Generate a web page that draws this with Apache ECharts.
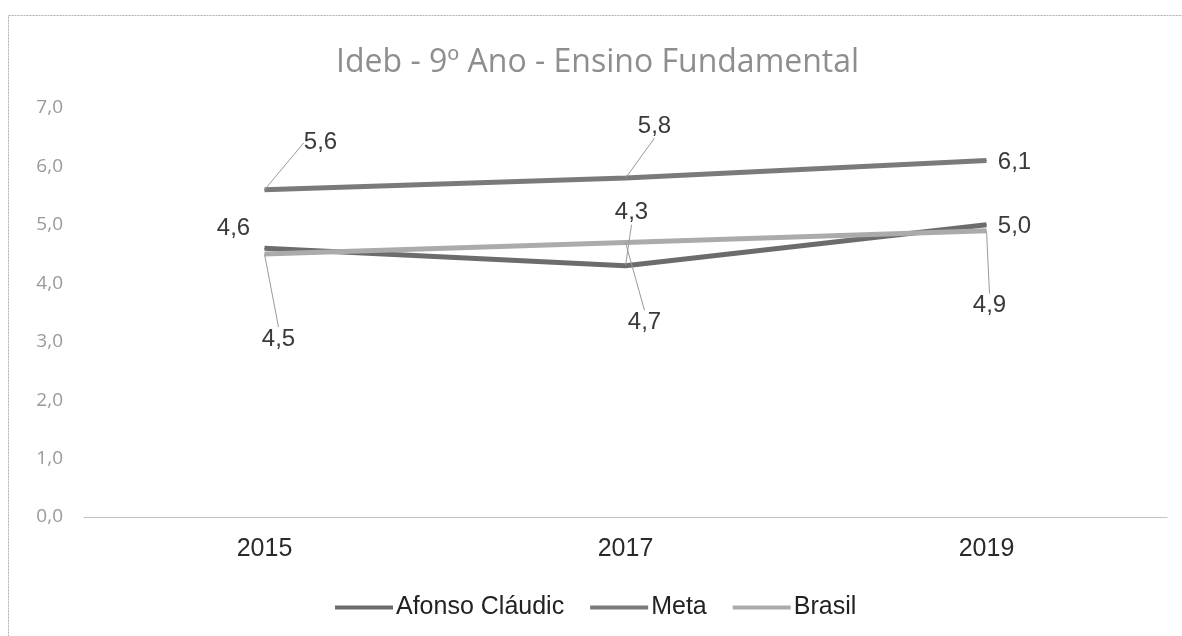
<!DOCTYPE html>
<html>
<head>
<meta charset="utf-8">
<style>
  html, body { margin: 0; padding: 0; background: #fff; }
  #chart { width: 1182px; height: 636px; }
</style>
<script src="https://cdn.jsdelivr.net/npm/echarts@6/dist/echarts.min.js"></script>
</head>
<body>
<div id="chart"></div>
<script>
// dados
const categories = ['2015', '2017', '2019'];
const afonso = [4.6, 4.3, 5.0];
const meta = [5.6, 5.8, 6.1];
const brasil = [4.5, 4.7, 4.9];
const yTicks = [0, 1, 2, 3, 4, 5, 6, 7];

// posicao dos rotulos (deslocamento em px do ponto) e linha guia
const labelShift = {
  'Afonso Cláudic': [[-31, -20], [6, -53], [28, 2]],
  'Meta': [[56, -47], [29, -52], [28, 2]],
  'Brasil': [[14, 85], [19, 80], [3, 75]]
};
const leader = {
  'Afonso Cláudic': [false, true, false],
  'Meta': [true, true, false],
  'Brasil': [true, true, true]
};

const fmt = (v) => Number(v).toFixed(1).replace('.', ',');

function makeSeries(name, values, color) {
  return {
    name: name,
    type: 'line',
    data: values.map((v, i) => ({
      value: v,
      labelLine: { show: leader[name][i] }
    })),
    symbol: 'circle',
    symbolSize: 1,
    itemStyle: { color: color },
    lineStyle: { color: color, width: 5 },
    label: {
      show: true,
      position: 'inside',
      formatter: (p) => fmt(p.value),
      fontFamily: 'Liberation Sans',
      fontSize: 24,
      color: '#3a3a3a'
    },
    labelLine: {
      lineStyle: { color: '#9a9a9a', width: 1 }
    },
    labelLayout: (params) => {
      const s = labelShift[name][params.dataIndex];
      return { dx: s[0], dy: s[1] };
    },
    emphasis: { disabled: true }
  };
}

const chart = echarts.init(document.getElementById('chart'));
chart.setOption({
  animation: false,
  backgroundColor: '#fff',
  graphic: [{
    type: 'rect',
    shape: { x: 8.5, y: 15.5, width: 1300, height: 800 },
    style: { fill: 'none', stroke: '#b0b0b0', lineWidth: 1, lineDash: [2, 1] },
    silent: true
  }],
  title: {
    text: 'Ideb - 9º Ano - Ensino Fundamental',
    left: 331,
    top: 42,
    textStyle: {
      fontFamily: 'Open Sans',
      fontWeight: 'normal',
      fontSize: 32,
      color: '#8e8e8e'
    }
  },
  legend: {
    bottom: 11,
    left: 330,
    icon: 'rect',
    itemWidth: 58,
    itemHeight: 4,
    itemGap: 26,
    textStyle: {
      fontFamily: 'Liberation Sans',
      fontSize: 25,
      color: '#222',
      padding: [0, 0, 0, -2]
    },
    data: ['Afonso Cláudic', 'Meta', 'Brasil']
  },
  grid: { left: 84, right: 15, top: 108, bottom: 119 },
  xAxis: {
    type: 'category',
    data: categories,
    boundaryGap: true,
    axisLine: { lineStyle: { color: '#b8b8b8', type: 'dotted', width: 1 } },
    axisTick: { show: false },
    axisLabel: {
      margin: 20,
      fontFamily: 'Liberation Sans',
      fontSize: 25,
      color: '#2a2a2a'
    }
  },
  yAxis: {
    type: 'value',
    min: yTicks[0],
    max: yTicks[yTicks.length - 1],
    interval: 1,
    axisLine: { show: false },
    axisTick: { show: false },
    splitLine: { show: false },
    axisLabel: {
      margin: 21,
      formatter: (v) => fmt(v),
      fontFamily: 'Open Sans',
      fontSize: 19,
      color: '#9a9a9a'
    }
  },
  series: [
    makeSeries('Afonso Cláudic', afonso, '#6c6c6c'),
    makeSeries('Meta', meta, '#7a7a7a'),
    makeSeries('Brasil', brasil, '#ababab')
  ]
});
</script>
</body>
</html>
